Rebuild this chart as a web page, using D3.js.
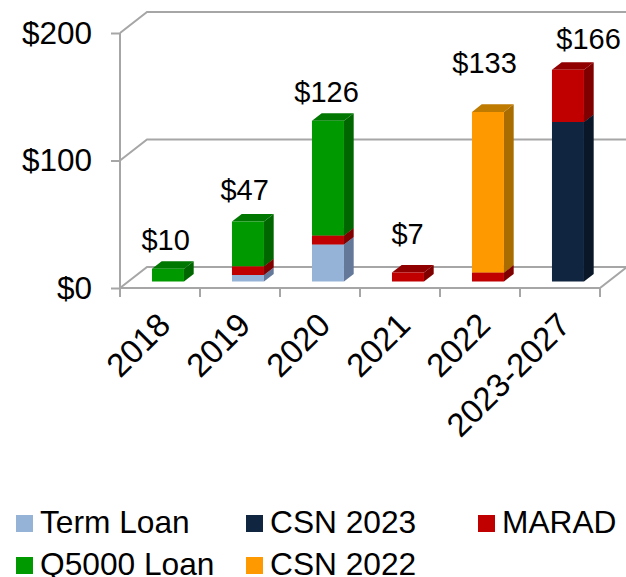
<!DOCTYPE html>
<html>
<head>
<meta charset="utf-8">
<script src="https://cdn.jsdelivr.net/npm/d3@7"></script>
<style>
    html, body { margin: 0; padding: 0; background: #fff; }
    svg { display: block; }
    text { font-family: "Liberation Sans", Arial, sans-serif; fill: #000; }
    .wall { stroke: #a6a6a6; stroke-width: 2; fill: none; }
    .axis path { display: none; }
    .axis line { stroke: #a6a6a6; stroke-width: 2; }
</style>
</head>
<body>
<div id="chart"></div>
<script>
const categories = ["2018", "2019", "2020", "2021", "2022", "2023-2027"];
const termLoan = [0, 5, 29, 0, 0, 0];
const csn2023 = [0, 0, 0, 0, 0, 125];
const marad = [0, 7, 7, 7, 7, 41];
const q5000Loan = [10, 35, 90, 0, 0, 0];
const csn2022 = [0, 0, 0, 0, 126, 0];
const totals = [10, 47, 126, 7, 133, 166];
const yTicks = [0, 100, 200];

const seriesNames = ["Term Loan", "CSN 2023", "MARAD", "Q5000 Loan", "CSN 2022"];
const seriesValues = [termLoan, csn2023, marad, q5000Loan, csn2022];

// front, side, top
const colors = {
    "Term Loan": ["#95b3d7", "#64789a", "#7a93b3"],
    "CSN 2023": ["#10253f", "#0a1728", "#0c1c30"],
    "MARAD": ["#c00000", "#800000", "#900000"],
    "Q5000 Loan": ["#009900", "#006600", "#007700"],
    "CSN 2022": ["#ff9900", "#a86c00", "#bf7a00"]
};

const width = 626, height = 577;

// depth of the 3d box, in px
const depthX = 27, depthY = 21;
const barFront = 0.31, barBack = 0.67;

const x = d3.scaleBand().domain(categories).range([120, 600]);
const y = d3.scaleLinear().domain([0, 200]).range([288, 33]);

const svg = d3.select("#chart").append("svg")
    .attr("width", width)
    .attr("height", height);

// turns a front plane position and a depth (0-1) into a string for a polygon
function pt(px, value, depth) {
    return [px + depth * depthX, y(value) - depth * depthY].join(",");
}

// walls and grid
yTicks.forEach(t => {
    svg.append("polyline")
        .attr("class", "wall")
        .attr("points", [pt(120, t, 0), pt(120, t, 1), pt(600, t, 1)].join(" "));
});
svg.append("line").attr("class", "wall")
    .attr("x1", 120).attr("x2", 120)
    .attr("y1", y(200)).attr("y2", y(0));
svg.append("polyline").attr("class", "wall")
    .attr("points", [pt(120, 0, 0), pt(600, 0, 0), pt(600, 0, 1)].join(" "));

// axes
const yAxis = d3.axisLeft(y)
    .tickValues(yTicks)
    .tickSize(9)
    .tickPadding(19)
    .tickFormat(d => "$" + d);
svg.append("g")
    .attr("class", "axis y-axis")
    .attr("transform", "translate(120, 0)")
    .call(yAxis)
    .selectAll("text")
    .attr("font-size", "31.5px");

const xAxis = d3.axisBottom(x).tickSize(0);
svg.append("g")
    .attr("class", "axis x-axis")
    .attr("transform", "translate(0, 288)")
    .call(xAxis)
    .selectAll("text")
    .attr("font-size", "33px")
    .attr("text-anchor", "end")
    .attr("dy", 0)
    .attr("transform", "translate(10, 37) rotate(-45)");

// tick marks sit on the band edges, not the centres
svg.append("g").selectAll("line")
    .data(categories.concat("end"))
    .join("line")
    .attr("class", "wall")
    .attr("x1", (d, i) => x.range()[0] + i * x.step())
    .attr("x2", (d, i) => x.range()[0] + i * x.step())
    .attr("y1", y(0))
    .attr("y2", y(0) + 9);

// stacked bars
const rows = categories.map((c, i) => {
    let row = {category: c};
    seriesNames.forEach((s, j) => { row[s] = seriesValues[j][i]; });
    return row;
});
const stacked = d3.stack().keys(seriesNames)(rows);

const barLeft = d => x(d.data.category) + x.bandwidth() * 0.295;
const barRight = d => x(d.data.category) + x.bandwidth() * 0.695;

stacked.forEach(layer => {
    let c = colors[layer.key];
    let g = svg.append("g").attr("class", "layer");
    let segs = layer.filter(d => d[1] > d[0]);

    g.selectAll(".side").data(segs).join("polygon")
        .attr("class", "side")
        .attr("fill", c[1])
        .attr("points", d => [pt(barRight(d), d[0], barFront), pt(barRight(d), d[0], barBack),
            pt(barRight(d), d[1], barBack), pt(barRight(d), d[1], barFront)].join(" "));
    g.selectAll(".top").data(segs).join("polygon")
        .attr("class", "top")
        .attr("fill", c[2])
        .attr("points", d => [pt(barLeft(d), d[1], barFront), pt(barRight(d), d[1], barFront),
            pt(barRight(d), d[1], barBack), pt(barLeft(d), d[1], barBack)].join(" "));
    g.selectAll(".front").data(segs).join("polygon")
        .attr("class", "front")
        .attr("fill", c[0])
        .attr("points", d => [pt(barLeft(d), d[0], barFront), pt(barRight(d), d[0], barFront),
            pt(barRight(d), d[1], barFront), pt(barLeft(d), d[1], barFront)].join(" "));
});

// total labels, hand placed in the original so each has its own nudge
const labelNudge = [[6, -19], [5, -22], [7, -19], [8, -29], [5, -39], [29, -21]];
svg.append("g").selectAll("text")
    .data(totals)
    .join("text")
    .attr("font-size", "29px")
    .attr("text-anchor", "middle")
    .attr("x", (d, i) => x(categories[i]) + x.bandwidth() * 0.495 + labelNudge[i][0])
    .attr("y", (d, i) => y(d) - barFront * depthY + labelNudge[i][1])
    .text(d => "$" + d);

// legend
const legendX = [16, 246, 478];
const legendY = [515, 557];
const legendItems = [["Term Loan", 0, 0], ["CSN 2023", 1, 0], ["MARAD", 2, 0], ["Q5000 Loan", 0, 1], ["CSN 2022", 1, 1]];

const legend = svg.append("g").attr("class", "legend");
legend.selectAll("rect").data(legendItems).join("rect")
    .attr("x", d => legendX[d[1]])
    .attr("y", d => legendY[d[2]])
    .attr("width", 17)
    .attr("height", 17)
    .attr("fill", d => colors[d[0]][0]);
legend.selectAll("text").data(legendItems).join("text")
    .attr("x", d => legendX[d[1]] + 24)
    .attr("y", d => legendY[d[2]] + 18)
    .attr("font-size", "31.7px")
    .text(d => d[0]);
</script>
</body>
</html>
